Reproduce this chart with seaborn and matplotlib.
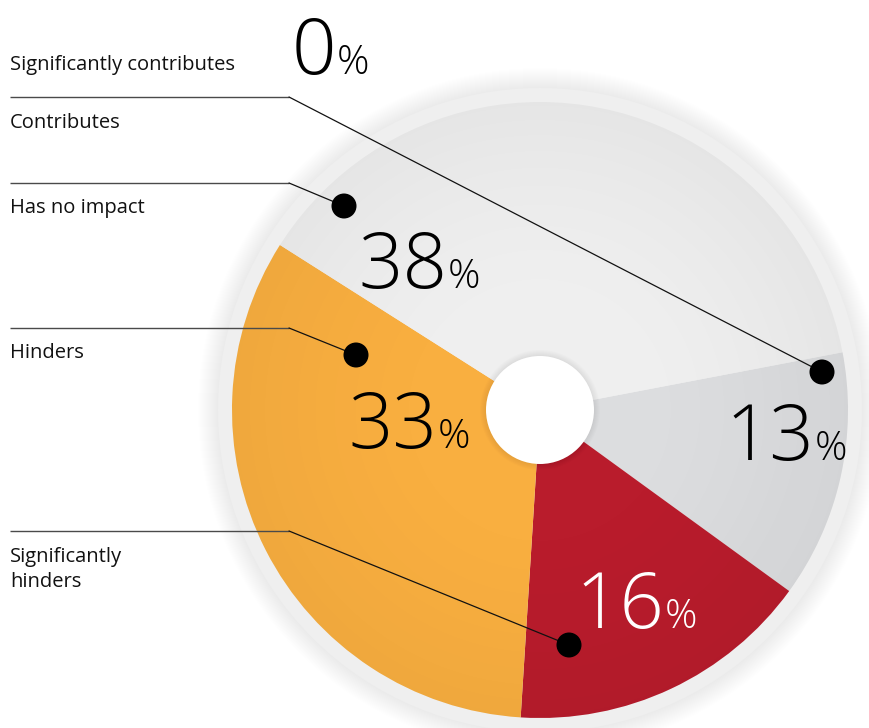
import numpy as np
import matplotlib
matplotlib.use("Agg")
import matplotlib.pyplot as plt
from matplotlib import font_manager
from matplotlib.patches import Circle
import seaborn as sns

# ---- data -------------------------------------------------------------
categories = ["Significantly contributes", "Contributes", "Has no impact",
              "Hinders", "Significantly hinders"]
shares = [0, 13, 38, 33, 16]
label_lines = [["Significantly contributes"], ["Contributes"], ["Has no impact"],
               ["Hinders"], ["Significantly", "hinders"]]

# order of the wedges, clockwise from the start angle
wedge_order = ["Contributes", "Significantly hinders", "Hinders", "Has no impact"]

# ---- styling ----------------------------------------------------------
sns.set_theme(style="white")
colors = {
    "Contributes": "#dcdddf",
    "Significantly hinders": "#b91c2c",
    "Hinders": "#f9af40",
    "Has no impact": "#efefef",
}

LIGHT_NAMES = {"light", "extra light", "extralight", "thin", "ultralight",
               "extra-light", "demilight", "semilight"}


def is_light(w):
    if isinstance(w, (int, float)):
        return w <= 300
    return isinstance(w, str) and w.lower() in LIGHT_NAMES


def pick_number_font(candidates):
    """Light face for the big figures, preferring a semi-condensed cut."""
    entries = font_manager.fontManager.ttflist
    for fam in candidates:
        faces = [f for f in entries if f.name == fam and is_light(f.weight)]
        if not faces:
            continue
        for f in faces:
            if str(f.stretch).lower() in ("semi-condensed", "semicondensed"):
                return fam, f.weight, "semi-condensed"
        return fam, faces[0].weight, "normal"
    return candidates[0], "light", "normal"


def has_family(fam):
    return any(f.name == fam for f in font_manager.fontManager.ttflist)


TEXT_FAM = next((f for f in ["Open Sans", "Noto Sans", "Lato"] if has_family(f)),
                "DejaVu Sans")
NUM_FAM, NUM_W, NUM_STRETCH = pick_number_font(
    ["Open Sans", "Lato", "Roboto", "Inter", "Noto Sans", "DejaVu Sans"])
plt.rcParams["font.family"] = [TEXT_FAM, "DejaVu Sans"]

W, H = 869, 728
fig = plt.figure(figsize=(W / 100, H / 100), dpi=100)
fig.patch.set_facecolor("white")
ax = fig.add_axes([0, 0, 1, 1])


def Y(py):
    return H - py


cx, cy = 540, Y(410)
R_PIE, R_RING, R_HOLE = 308, 322, 54

# soft shadow around the outer ring
for k in range(20, 0, -1):
    ax.add_patch(Circle((cx, cy), R_RING + k, color="#000000", alpha=0.0024,
                        lw=0, zorder=1))
ax.add_patch(Circle((cx, cy), R_RING, color="#efefef", lw=0, zorder=2))

share_of = dict(zip(categories, shares))
vals = [share_of[c] for c in wedge_order]
wedges, _ = ax.pie(vals, colors=[colors[c] for c in wedge_order],
                   startangle=10.8, counterclock=False, center=(cx, cy),
                   radius=R_PIE, frame=True,
                   wedgeprops=dict(linewidth=0, zorder=3))
ax.set_xlim(0, W)
ax.set_ylim(0, H)
ax.set_aspect("equal")
ax.axis("off")

# radial shading of the disc
n = 400
gx = np.linspace(-1, 1, n)
xx, yy = np.meshgrid(gx, gx)
rr = np.sqrt(xx ** 2 + yy ** 2)
shade = np.zeros((n, n, 4))
shade[..., 3] = 0.04 * np.clip((rr - 0.25) / 0.75, 0, 1) ** 1.6
clip = Circle((cx, cy), R_PIE, transform=ax.transData)
im = ax.imshow(shade, extent=(cx - R_PIE, cx + R_PIE, cy - R_PIE, cy + R_PIE),
               zorder=4, interpolation="bilinear")
im.set_clip_path(clip)
ax.set_xlim(0, W)
ax.set_ylim(0, H)

# centre hole with a faint rim shadow
for k in range(6, 0, -1):
    ax.add_patch(Circle((cx, cy), R_HOLE + k, color="#000000", alpha=0.01,
                        lw=0, zorder=5))
ax.add_patch(Circle((cx, cy), R_HOLE, color="white", lw=0, zorder=6))

# ---- left labels and leader lines --------------------------------------
label_baseline = {"Significantly contributes": 70, "Contributes": 128,
                  "Has no impact": 213, "Hinders": 358,
                  "Significantly hinders": 562}
rule_y = {"Contributes": 97, "Has no impact": 183, "Hinders": 328,
          "Significantly hinders": 531}
dot_xy = {"Contributes": (822, 372), "Has no impact": (344, 206),
          "Hinders": (356, 355), "Significantly hinders": (569, 645)}

for cat, lines in zip(categories, label_lines):
    for i, line in enumerate(lines):
        ax.text(10, Y(label_baseline[cat] + 25 * i), line, fontsize=14.5,
                color="#111111", va="baseline", ha="left", zorder=10)
    if cat in rule_y:
        ry = rule_y[cat]
        ax.plot([10, 289], [Y(ry), Y(ry)], color="#4a4a4a", lw=1.0, zorder=9,
                solid_capstyle="butt")
        dx, dy = dot_xy[cat]
        ax.plot([289, dx], [Y(ry), Y(dy)], color="#111111", lw=0.9, zorder=9)
        ax.add_patch(Circle((dx, Y(dy)), 12.5, color="black", lw=0, zorder=11))

# ---- percentage figures -----------------------------------------------
num_pos = {"Significantly contributes": (336, 74, "black"),
           "Has no impact": (447, 288, "black"),
           "Hinders": (437, 448, "black"),
           "Contributes": (814, 460, "black"),
           "Significantly hinders": (664, 628, "white")}
for cat, (x, base, col) in num_pos.items():
    ax.text(x, Y(base), f"{share_of[cat]}", fontsize=56, family=[NUM_FAM],
            fontweight=NUM_W, fontstretch=NUM_STRETCH, color=col, ha="right",
            va="baseline", zorder=12)
    ax.text(x + 1, Y(base), "%", fontsize=29, family=[NUM_FAM],
            fontweight=NUM_W, fontstretch=NUM_STRETCH, color=col, ha="left",
            va="baseline", zorder=12)

fig.savefig("out.png", dpi=100, facecolor="white")
